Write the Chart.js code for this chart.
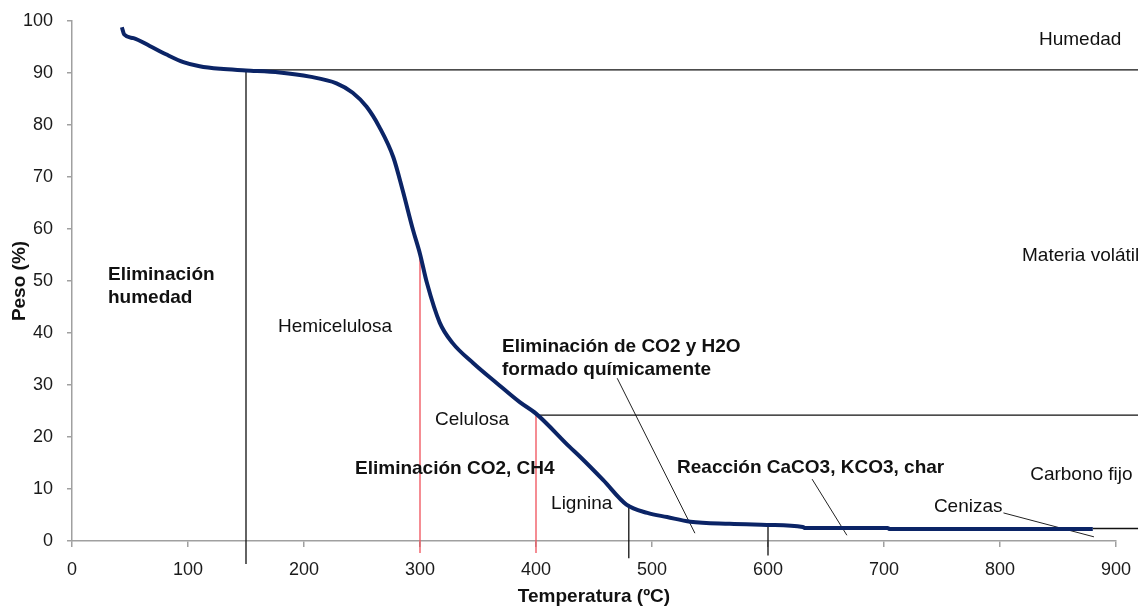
<!DOCTYPE html>
<html>
<head>
<meta charset="utf-8">
<script src="https://cdn.jsdelivr.net/npm/chart.js@4/dist/chart.umd.min.js"></script>
<style>
  html, body { margin: 0; padding: 0; background: #fff; }
  #wrap { width: 1140px; height: 609px; }
</style>
</head>
<body>
<div id="wrap"><canvas id="c" width="1140" height="609"></canvas></div>
<script>
// ---- Data ----
const tempC  = [43, 45, 53, 67, 81, 96, 110, 128, 150, 179, 205, 228, 242, 254, 265, 277, 285, 294, 300, 306, 317, 328, 346, 366, 386, 400, 429, 438, 458, 478, 496, 513, 533, 567, 599, 630, 632, 703, 705, 880];
const pesoPct = [98.8, 97.4, 96.7, 95.2, 93.6, 92.1, 91.3, 90.8, 90.5, 90.1, 89.3, 88.0, 86.2, 83.5, 79.6, 73.8, 67.5, 59.8, 55.2, 49.6, 42.0, 38.1, 34.2, 30.4, 26.7, 24.5, 18.1, 16.2, 11.7, 7.0, 5.4, 4.6, 3.7, 3.3, 3.1, 2.7, 2.5, 2.5, 2.3, 2.3];

const xTicks = [0, 100, 200, 300, 400, 500, 600, 700, 800, 900];
const yTicks = [0, 10, 20, 30, 40, 50, 60, 70, 80, 90, 100];

// Stage boundaries (vertical lines): x, top y, bottom y
const blackVX    = [150, 480, 600];
const blackVTop  = [90.5, 7.0, 3.4];
const blackVBot  = [-4.4, -3.3, -2.8];
const redVX      = [300, 400];
const redVTop    = [55.2, 24.5];
const redVBot    = [-2.3, -2.3];

// Fraction boundaries (horizontal lines): y, x start, x end
const hLineY     = [90.6, 24.2, 2.4];
const hLineStart = [150, 400, 880];
const hLineEnd   = [919, 919, 919];

// Leader lines: start (x,y) -> end (x,y)
const leadX0 = [470, 638, 803];
const leadY0 = [31.3, 11.9, 5.4];
const leadX1 = [537, 668, 881];
const leadY1 = [1.5, 1.1, 0.8];

// Text annotations
const noteText = ['Humedad', 'Materia volátil', 'Carbono fijo', 'Eliminación', 'humedad', 'Hemicelulosa',
  'Eliminación de CO2 y H2O', 'formado químicamente', 'Celulosa', 'Eliminación CO2, CH4',
  'Reacción CaCO3, KCO3, char', 'Lignina', 'Cenizas'];
const noteX = [833.6, 819, 826, 31, 31, 177.6, 370.7, 370.7, 313, 244, 521.6, 413, 743];
const noteY = [96.3, 54.8, 12.7, 51.2, 46.8, 41.2, 37.3, 32.9, 23.3, 13.8, 14.0, 7.1, 6.5];
const noteBold = [false, false, false, true, true, false, true, true, false, true, true, false, false];

// ---- Build datasets ----
const FONT = "'Liberation Sans', Arial, sans-serif";
const curve = tempC.map((t, i) => ({x: t, y: pesoPct[i]}));
const datasets = [{
  data: curve, showLine: true, borderColor: '#0b2466', borderWidth: 4,
  pointRadius: 0, cubicInterpolationMode: 'monotone', clip: false
}];
function seg(x0, y0, x1, y1, color, w) {
  datasets.push({data: [{x: x0, y: y0}, {x: x1, y: y1}], showLine: true,
    borderColor: color, borderWidth: w, pointRadius: 0, clip: false, tension: 0});
}
blackVX.forEach((x, i) => seg(x, blackVTop[i], x, blackVBot[i], '#111', 1.3));
redVX.forEach((x, i) => seg(x, redVTop[i], x, redVBot[i], '#f0505a', 1.3));
hLineY.forEach((y, i) => seg(hLineStart[i], y, hLineEnd[i], y, '#111', 1.3));
leadX0.forEach((x, i) => seg(x, leadY0[i], leadX1[i], leadY1[i], '#222', 1));

const notesPlugin = {
  id: 'notes',
  afterDatasetsDraw(chart) {
    const {ctx, scales: {x, y}} = chart;
    ctx.save();
    ctx.textBaseline = 'middle';
    ctx.textAlign = 'left';
    ctx.fillStyle = '#111';
    noteText.forEach((t, i) => {
      ctx.font = (noteBold[i] ? 'bold ' : '') + '19px ' + FONT;
      ctx.fillText(t, x.getPixelForValue(noteX[i]), y.getPixelForValue(noteY[i]));
    });
    ctx.restore();
  }
};

new Chart(document.getElementById('c'), {
  type: 'scatter',
  data: {datasets},
  options: {
    responsive: false,
    animation: false,
    layout: {padding: {top: 21, right: 24, left: 0, bottom: 0}},
    plugins: {legend: {display: false}, tooltip: {enabled: false}},
    scales: {
      x: {
        type: 'linear', min: 0, max: 900,
        afterBuildTicks: s => { s.ticks = xTicks.map(v => ({value: v})); },
        afterFit: s => { s.height = 68; s.paddingLeft = 0; s.paddingRight = 0; },
        grid: {drawOnChartArea: false, drawTicks: true, tickLength: 6, color: '#a0a0a0', lineWidth: 1.5},
        border: {display: true, color: '#a0a0a0', width: 1.5},
        ticks: {color: '#1a1a1a', font: {family: FONT, size: 18}, padding: 12, maxRotation: 0},
        title: {display: true, text: 'Temperatura (ºC)', color: '#111',
          font: {family: FONT, size: 19, weight: 'bold'}, padding: {top: 0, bottom: 1}}
      },
      y: {
        type: 'linear', min: 0, max: 100,
        afterBuildTicks: s => { s.ticks = yTicks.map(v => ({value: v})); },
        afterFit: s => { s.width = 72; s.paddingTop = 0; s.paddingBottom = 0; },
        grid: {drawOnChartArea: false, drawTicks: true, tickLength: 5, color: '#a0a0a0', lineWidth: 1.5},
        border: {display: true, color: '#a0a0a0', width: 1.5},
        ticks: {color: '#1a1a1a', font: {family: FONT, size: 18}, padding: 14},
        title: {display: true, text: 'Peso (%)', color: '#111',
          font: {family: FONT, size: 19, weight: 'bold'}, padding: {top: 8, bottom: 0}}
      }
    }
  },
  plugins: [notesPlugin]
});
</script>
</body>
</html>
